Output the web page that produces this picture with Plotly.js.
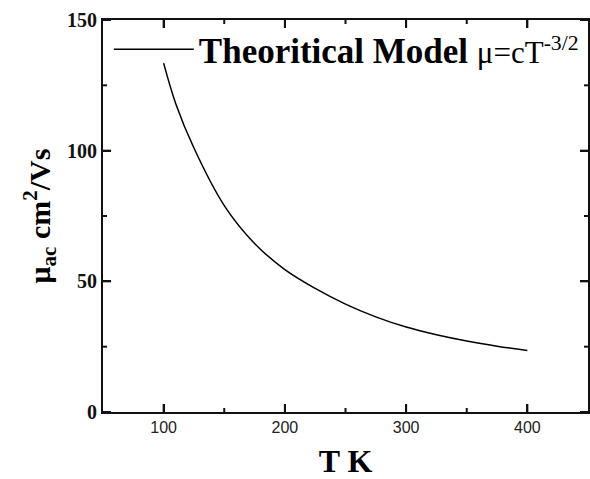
<!DOCTYPE html>
<html>
<head>
<meta charset="utf-8">
<script src="https://cdn.plot.ly/plotly-3.0.1.min.js"></script>
<style>html,body{margin:0;padding:0;background:#fff;}#chart{width:590px;height:479px;}</style>
</head>
<body>
<div id="chart"></div>
<script>
// Temperature (K) and acoustic-phonon mobility (cm^2/Vs)
var temperature = [100, 110, 125, 150, 175, 200, 225, 250, 275, 300, 325, 350, 375, 400];
var mobility    = [133.5, 118, 101, 79, 64.5, 54.5, 47.3, 41.3, 36.4, 32.5, 29.6, 27.2, 25.2, 23.5];
var seriesName = "<b>Theoritical Model</b> <span style='font-size:31px'>μ=cT<sup>-3/2</sup></span>";
var xTitle = "<b>T K</b>";
var yTitle = "<b>μ<sub>ac</sub> cm<sup>2</sup>/Vs</b>";
var xRange = [50, 450];
var yRange = [0, 150];
var xMajor = [100, 200, 300, 400];
var xMinor = [150, 250, 350];
var yMajor = [0, 50, 100, 150];
var yMinor = [25, 75, 125];

var serif = "Liberation Serif, Times New Roman, serif";
var sans = "Liberation Sans, Arial, sans-serif";
var axisColor = "#111";

var W = 590, H = 479, M = {l: 103, r: 2, t: 20, b: 67};
var plotW = W - M.l - M.r, plotH = H - M.t - M.b;
function pxX(px) { return px * (xRange[1] - xRange[0]) / plotW; }
function pxY(px) { return px * (yRange[1] - yRange[0]) / plotH; }

var trace = {
  x: temperature, y: mobility, type: "scatter", mode: "lines",
  name: seriesName,
  line: {color: "#000", width: 1.5, shape: "spline"}
};

// Inside tick marks on all four sides, drawn as short segments through the axis scales
function tickSegments(majorX, minorX, majorY, minorY) {
  var xs = [], ys = [];
  function addX(vals, px) {
    var d = pxY(px);
    vals.forEach(function(v){
      xs.push(v, v, null); ys.push(yRange[0], yRange[0] + d, null);
      xs.push(v, v, null); ys.push(yRange[1], yRange[1] - d, null);
    });
  }
  function addY(vals, px) {
    var d = pxX(px);
    vals.forEach(function(v){
      ys.push(v, v, null); xs.push(xRange[0], xRange[0] + d, null);
      ys.push(v, v, null); xs.push(xRange[1], xRange[1] - d, null);
    });
  }
  addX(majorX, 8); addX(minorX, 4); addY(majorY, 8); addY(minorY, 4);
  return {x: xs, y: ys, type: "scatter", mode: "lines", connectgaps: false,
    showlegend: false, hoverinfo: "skip", cliponaxis: false,
    line: {color: axisColor, width: 2, simplify: false}};
}
var traces = [trace, tickSegments(xMajor, xMinor, yMajor, yMinor)];

var layout = {
  width: W, height: H,
  margin: M,
  paper_bgcolor: "#fff", plot_bgcolor: "#fff",
  showlegend: true,
  legend: {
    x: 0.012, y: 1.0, xanchor: "left", yanchor: "top",
    bgcolor: "rgba(0,0,0,0)", borderwidth: 0,
    itemwidth: 80,
    font: {family: serif, size: 35, color: "#000"}
  },
  xaxis: {
    range: xRange, tickmode: "array", tickvals: xMajor,
    ticks: "inside", ticklen: 8, tickwidth: 2, tickcolor: axisColor,
    showline: true, linewidth: 2, linecolor: axisColor, mirror: "allticks",
    showgrid: false, zeroline: false,
    tickfont: {family: sans, size: 16, color: "#222"},
    title: {text: xTitle, font: {family: serif, size: 32, color: "#000"}, standoff: 14},
    automargin: false
  },
  yaxis: {
    range: yRange, tickmode: "array", tickvals: yMajor,
    ticks: "inside", ticklen: 8, tickwidth: 2, tickcolor: axisColor,
    showline: true, linewidth: 2, linecolor: axisColor, mirror: "allticks",
    showgrid: false, zeroline: false,
    tickfont: {family: serif, size: 20, color: "#111", weight: "bold"},
    title: {text: yTitle, font: {family: serif, size: 30, color: "#000"}, standoff: 8},
    automargin: false
  }
};

Plotly.newPlot("chart", traces, layout, {displayModeBar: false, staticPlot: true});
</script>
</body>
</html>
